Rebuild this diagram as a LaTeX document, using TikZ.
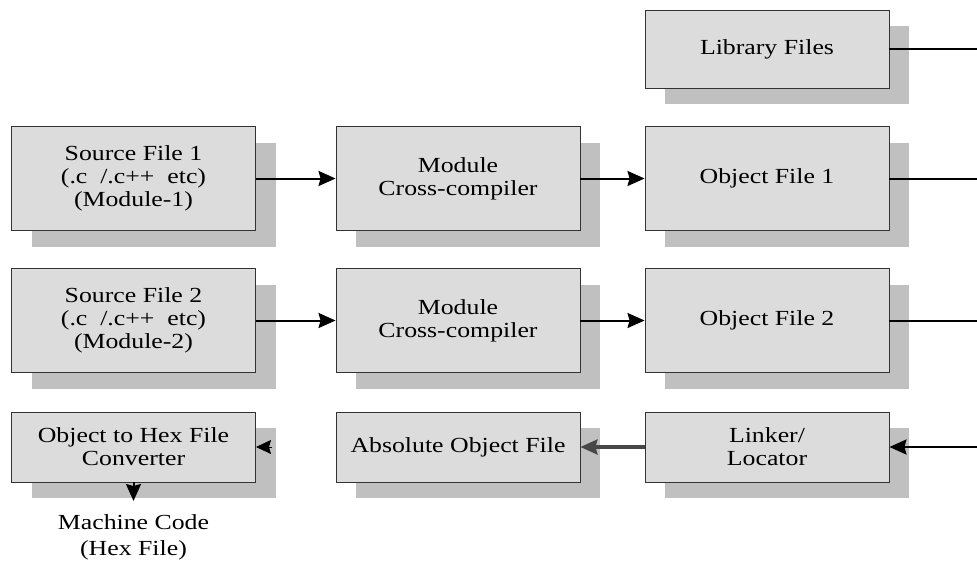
\documentclass[tikz,border=0pt]{standalone}
\usepackage{fontspec}
\setmainfont{Liberation Serif}[FakeStretch=1.2]
\usetikzlibrary{arrows.meta,shadows}
\definecolor{boxfill}{HTML}{DCDCDC}
\definecolor{shadowfill}{HTML}{C0C0C0}
\definecolor{boxline}{HTML}{333333}
\tikzset{
  blk/.style={draw=boxline, line width=0.9pt, fill=boxfill, minimum width=244pt,
    align=center, inner sep=0pt, font=\fontsize{21.5}{23}\selectfont,
    general shadow={fill=shadowfill, shadow xshift=20pt, shadow yshift=-16pt}},
  tall/.style={blk, minimum height=104pt},
  short/.style={blk, minimum height=70pt},
  libh/.style={blk, minimum height=78pt},
  arr/.style={line width=2pt, -{Stealth[length=17pt,width=15pt,inset=2pt]}},
  plainline/.style={line width=2pt},
  grayarr/.style={line width=3.2pt, draw=black!72, -{Stealth[length=17pt,width=15pt,inset=2pt]}},
  lbl/.style={align=center, inner sep=0pt, font=\fontsize{21.5}{26}\selectfont}
}
\begin{document}
\begin{tikzpicture}[x=1pt,y=-1pt]
\useasboundingbox (0,0) rectangle (977,584);
\node[libh]  (lib)  at (767,49)    {Library Files};
\node[tall]  (src1) at (133.5,178.5) {Source File 1\\(.c \ /.c++ \ etc)\\(Module-1)};
\node[tall]  (mod1) at (458,178.5) {Module\\Cross-compiler};
\node[tall]  (obj1) at (767,178.5) {Object File 1};
\node[tall]  (src2) at (133.5,320.5) {Source File 2\\(.c \ /.c++ \ etc)\\(Module-2)};
\node[tall]  (mod2) at (458,320.5) {Module\\Cross-compiler};
\node[tall]  (obj2) at (767,320.5) {Object File 2};
\node[short] (hex)  at (133.5,447) {Object to Hex File\\Converter};
\node[short] (abs)  at (458,447)   {Absolute Object File};
\node[short] (link) at (767,447)   {Linker/\\Locator};
\node[lbl]   (mc)   at (133.5,537) {Machine Code\\(Hex File)};

\coordinate (r1) at (977,49);
\coordinate (r2) at (977,178.5);
\coordinate (r3) at (977,320.5);
\coordinate (r4) at (977,447);
\coordinate (hexhead) at (272,447);
\coordinate (hextip) at (256,447);
\coordinate (mctip) at (133.5,501);

\draw[arr] (src1.east) -- (mod1.west);
\draw[arr] (mod1.east) -- (obj1.west);
\draw[arr] (src2.east) -- (mod2.west);
\draw[arr] (mod2.east) -- (obj2.west);
\draw[plainline] (lib.east) -- (r1);
\draw[plainline] (obj1.east) -- (r2);
\draw[plainline] (obj2.east) -- (r3);
\draw[arr] (r4) -- (link.east);
\draw[grayarr] (link.west) -- (abs.east);
\draw[line width=1pt, -{Stealth[length=15pt,width=14pt,inset=2pt]}] (hexhead) -- (hextip);
\draw[arr] (hex.south) -- (mctip);
\end{tikzpicture}
\end{document}
